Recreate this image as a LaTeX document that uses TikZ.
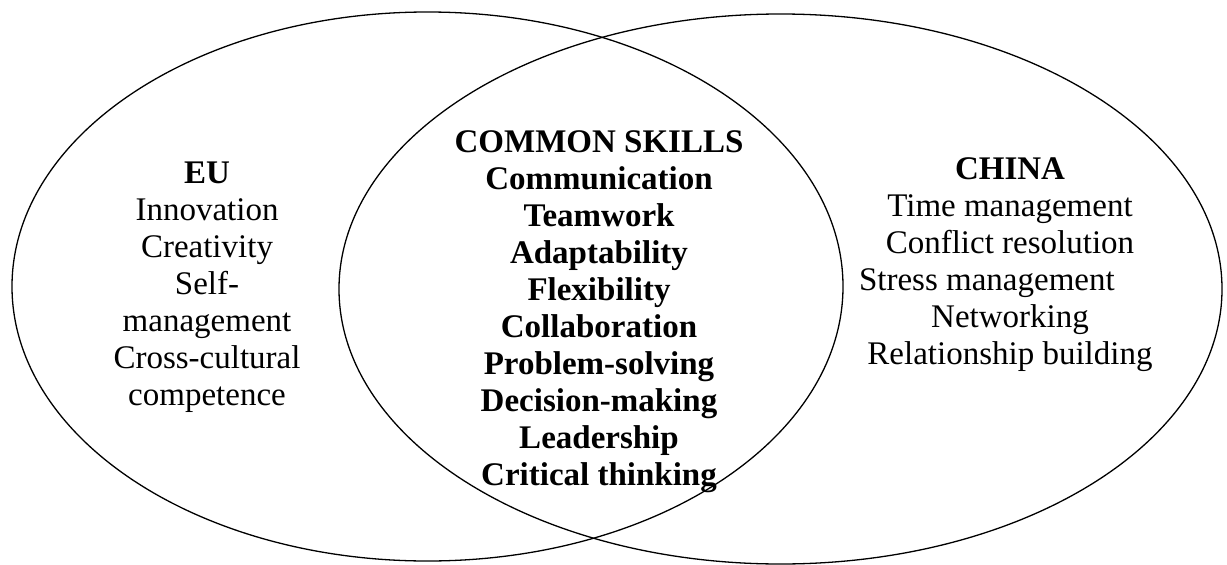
\documentclass[tikz,border=0pt]{standalone}
\usepackage{fontspec}
\setmainfont{Liberation Serif}
\usetikzlibrary{shapes.geometric,
    positioning}

\begin{document}
\begin{tikzpicture} [x = 1pt, y = -1pt,
    every node/.style = {inner sep = 0pt},
    set/.style = {ellipse, draw, line width = 1.3pt},
    skills/.style = {align = center, anchor = north,
        font = \fontsize{33}{37}\selectfont},
    common/.style = {skills, font = \fontsize{33}{37}\selectfont\bfseries}]
\useasboundingbox (0,0) rectangle (1227,565);

% the two sets
\node[set, minimum width = 831pt, minimum height = 549pt] (eu) at (427.5,286.5) {};
\node[set, minimum width = 883pt, minimum height = 550pt] (china) at (780.5,289) {};

% the skills
\node[skills] (eulist) at (207,162) {\textbf{EU}\\Innovation\\Creativity\\Self-\\management\\Cross-cultural\\competence};
\node[common] (commonlist) at (599,130) {COMMON SKILLS\\Communication\\Teamwork\\Adaptability\\Flexibility\\Collaboration\\Problem-solving\\Decision-making\\Leadership\\Critical thinking};
\node[skills] (chinalist) at (1010,157) {\textbf{CHINA}\\Time management\\Conflict resolution\\Stress management\rule{1.4em}{0pt}\\Networking\\Relationship building};
\end{tikzpicture}
\end{document}
